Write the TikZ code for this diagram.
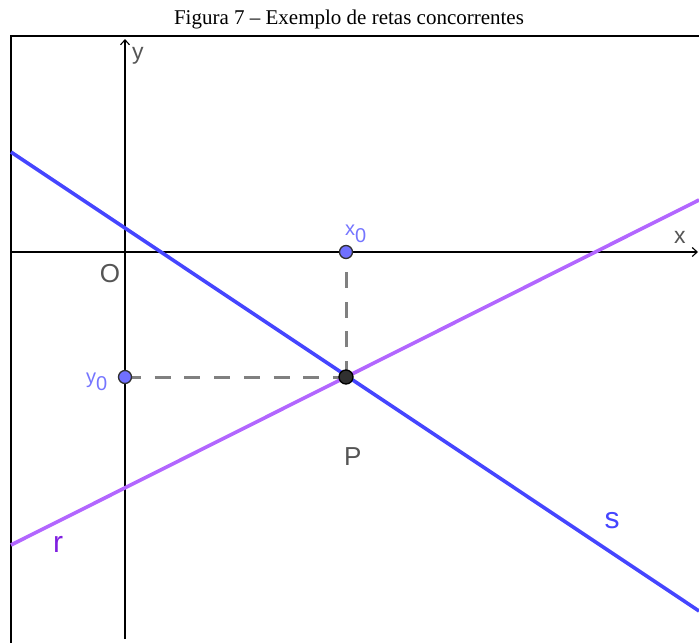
\documentclass[tikz,border=0pt]{standalone}
\usepackage{fontspec}
\setmainfont{Liberation Serif}
\newfontfamily\geofont{Liberation Sans}
\usetikzlibrary{arrows.meta}
\definecolor{sblue}{HTML}{4545FF}
\definecolor{rpurple}{HTML}{B266FF}
\definecolor{rlabel}{HTML}{7F1FE0}
\definecolor{ptblue}{HTML}{7070FF}
\definecolor{lblblue}{HTML}{7575FF}
\definecolor{axisgray}{HTML}{303030}
\definecolor{txtgray}{HTML}{555555}
\definecolor{dashgray}{HTML}{808080}
\tikzset{
  frame/.style={line width=1.3pt, black},
  axis/.style={line width=1.6pt, black, -{Straight Barb[length=5pt,width=9pt,line width=1.1pt]}},
  sline/.style={line width=3.6pt, sblue},
  rline/.style={line width=3.6pt, rpurple},
  dashline/.style={line width=3pt, dashgray, dash pattern=on 16pt off 13.7pt},
  freept/.style={circle, draw=axisgray, line width=1.3pt, fill=ptblue, minimum size=13pt, inner sep=0pt},
  fixpt/.style={circle, draw=black, line width=1.3pt, fill=axisgray, minimum size=14pt, inner sep=0pt},
  geolbl/.style={font=\geofont\fontsize{26}{26}\selectfont, text=txtgray, inner sep=0pt},
  axlbl/.style={font=\geofont\fontsize{23}{23}\selectfont, text=txtgray, inner sep=0pt},
  sublbl/.style={font=\geofont\fontsize{20}{20}\selectfont, text=lblblue, inner sep=0pt},
  linelbl/.style={font=\geofont\fontsize{30}{30}\selectfont, inner sep=0pt},
  title/.style={font=\fontsize{21}{22}\selectfont, inner sep=0pt}
}
\begin{document}
\begin{tikzpicture}[x=1pt,y=-1pt]
\useasboundingbox (0,0) rectangle (699,643);
\node[title] (ttl) at (349,19) {Figura 7 -- Exemplo de retas concorrentes};
% frame
\coordinate (ftl) at (11,36);
\coordinate (ftr) at (699,36);
\coordinate (fbl) at (11,643);
\draw[frame] (ftr) -- (ftl) -- (fbl);
% axes
\coordinate (xa0) at (11,252);
\coordinate (xa1) at (698,252);
\coordinate (ya0) at (125,639);
\coordinate (ya1) at (125,39);
\draw[axis] (xa0) -- (xa1);
\draw[axis] (ya0) -- (ya1);
% lines
\coordinate (s0) at (11,152);
\coordinate (s1) at (699,611);
\coordinate (r0) at (11,545);
\coordinate (r1) at (699,200);
\draw[sline] (s0) -- (s1);
\draw[rline] (r0) -- (r1);
% points and dashed projections
\coordinate (Pc) at (346,377);
\coordinate (X0c) at (346,252);
\coordinate (Y0c) at (125,377);
\draw[dashline] (Pc) -- (X0c);
\draw[dashline] (Y0c) -- (Pc);
\node[freept] (X0) at (X0c) {};
\node[freept] (Y0) at (Y0c) {};
\node[fixpt] (P) at (Pc) {};
% labels
\node[axlbl, anchor=base west] (ly) at (132,59) {y};
\node[axlbl, anchor=base west] (lx) at (674,243) {x};
\node[geolbl, anchor=base] (lO) at (110,282) {O};
\node[geolbl, anchor=base west] (lP) at (344,465) {P};
\node[sublbl, anchor=base west] (lx0) at (345,235) {x\raisebox{-7pt}{0}};
\node[sublbl, anchor=base west] (ly0) at (86,383) {y\raisebox{-7pt}{0}};
\node[linelbl, text=sblue, anchor=base] (ls) at (612,528) {s};
\node[linelbl, text=rlabel, anchor=base] (lr) at (58,552) {r};
\end{tikzpicture}
\end{document}
